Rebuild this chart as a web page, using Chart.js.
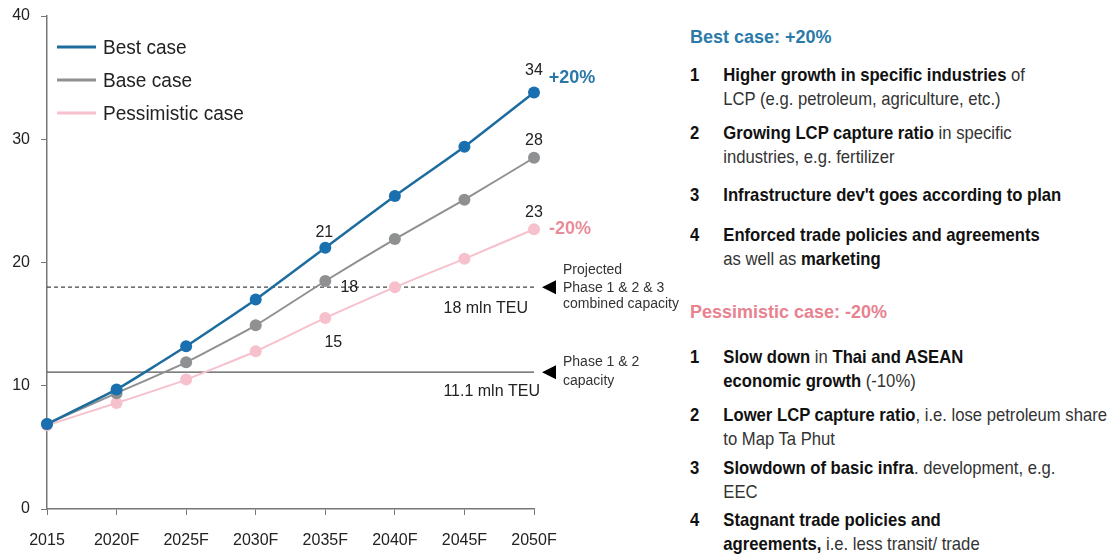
<!DOCTYPE html>
<html><head><meta charset="utf-8">
<script src="https://cdn.jsdelivr.net/npm/chart.js@4.4.0/dist/chart.umd.min.js"></script>
<style>
html,body{margin:0;padding:0;background:#fff;width:1110px;height:559px;overflow:hidden;font-family:"Liberation Sans",Arial,sans-serif;}
#wrap{position:absolute;left:0;top:0;width:680px;height:559px;}
.t{position:absolute;left:690px;font-weight:bold;font-size:18px;line-height:24px;white-space:nowrap;}
.it{position:absolute;left:690px;font-size:18.5px;line-height:24px;white-space:nowrap;color:#333;transform:scaleX(0.9);transform-origin:0 0;}
.it .n{position:absolute;left:0;top:0;font-weight:bold;color:#111;}
.it .x{position:absolute;left:37px;top:0;}
.it b{color:#111;}
</style></head>
<body>
<div id="wrap"><canvas id="c" width="680" height="559"></canvas></div>

<div class="t" style="top:25px;color:#2b7aa8;">Best case: +20%</div>
<div class="it" style="top:63px;"><span class="n">1</span><span class="x"><b>Higher growth in specific industries</b> of<br>LCP (e.g. petroleum, agriculture, etc.)</span></div>
<div class="it" style="top:121px;"><span class="n">2</span><span class="x"><b>Growing LCP capture ratio</b> in specific<br>industries, e.g. fertilizer</span></div>
<div class="it" style="top:183px;"><span class="n">3</span><span class="x"><b>Infrastructure dev't goes according to plan</b></span></div>
<div class="it" style="top:223px;"><span class="n">4</span><span class="x"><b>Enforced trade policies and agreements</b><br>as well as <b>marketing</b></span></div>

<div class="t" style="top:300px;color:#e8828f;">Pessimistic case: -20%</div>
<div class="it" style="top:345px;"><span class="n">1</span><span class="x"><b>Slow down</b> in <b>Thai and ASEAN</b><br><b>economic growth</b> (-10%)</span></div>
<div class="it" style="top:403px;"><span class="n">2</span><span class="x"><b>Lower LCP capture ratio</b>, i.e. lose petroleum share<br>to Map Ta Phut</span></div>
<div class="it" style="top:456px;"><span class="n">3</span><span class="x"><b>Slowdown of basic infra</b>. development, e.g.<br>EEC</span></div>
<div class="it" style="top:508px;"><span class="n">4</span><span class="x"><b>Stagnant trade policies and</b><br><b>agreements,</b> i.e. less transit/ trade</span></div>

<script>
// ---- data ----
const categories = ['2015', '2020F', '2025F', '2030F', '2035F', '2040F', '2045F', '2050F'];
const bestCase = [6.9, 9.7, 13.2, 17.0, 21.2, 25.4, 29.4, 33.8];
const baseCase = [6.9, 9.4, 11.9, 14.9, 18.5, 21.9, 25.1, 28.5];
const pessimisticCase = [6.8, 8.6, 10.5, 12.8, 15.5, 18.0, 20.3, 22.7];
const capacityPhase123 = 18;
const capacityPhase12 = 11.1;
const yMin = 0, yMax = 40, yStep = 10;

const FONT = '"Liberation Sans", Arial, sans-serif';
const BLUE = '#1c6c9e', BLUE_PT = '#1a6fae', GREY = '#8f9092', PINK = '#f6c1cc';

const overlay = {
  id: 'overlay',
  afterDatasetsDraw(chart) {
    const ctx = chart.ctx, xs = chart.scales.x, ys = chart.scales.y, ca = chart.chartArea;
    const px = i => xs.getPixelForValue(i);
    const py = v => ys.getPixelForValue(v);
    ctx.save();
    ctx.textBaseline = 'middle';
    function txt(s, x, y, font, color, align) {
      ctx.font = font; ctx.fillStyle = color; ctx.textAlign = align || 'center'; ctx.fillText(s, x, y);
    }
    const n = '16px ' + FONT;
    const last = categories.length - 1, i35 = categories.indexOf('2035F');
    txt('34', px(last), py(bestCase[last]) - 22, n, '#222');
    txt('+20%', px(last) + 38, py(bestCase[last]) - 14, 'bold 18px ' + FONT, '#2a78a8');
    txt('28', px(last), py(baseCase[last]) - 17, n, '#222');
    txt('23', px(last), py(pessimisticCase[last]) - 17, n, '#222');
    txt('-20%', px(last) + 36, py(pessimisticCase[last]), 'bold 18px ' + FONT, '#ea8b99');
    txt('21', px(i35) - 1, py(bestCase[i35]) - 15, n, '#222');
    txt('18', px(i35) + 24, py(capacityPhase123), n, '#222');
    txt('15', px(i35) + 8, py(pessimisticCase[i35]) + 25, n, '#222');
    txt('18 mln TEU', ca.right - 6, py(capacityPhase123) + 21, n, '#222', 'right');
    txt('11.1 mln TEU', ca.right + 6, py(capacityPhase12) + 19, n, '#222', 'right');
    // triangles
    [capacityPhase123, capacityPhase12].forEach(v => {
      const y = py(v);
      ctx.beginPath();
      ctx.moveTo(ca.right + 8, y);
      ctx.lineTo(ca.right + 22, y - 7);
      ctx.lineTo(ca.right + 22, y + 7);
      ctx.closePath(); ctx.fillStyle = '#000'; ctx.fill();
    });
    const s = '14px ' + FONT;
    const lx = ca.right + 29;
    txt('Projected', lx, py(capacityPhase123) - 17, s, '#333', 'left');
    txt('Phase 1 & 2 & 3', lx, py(capacityPhase123) + 1, s, '#333', 'left');
    txt('combined capacity', lx, py(capacityPhase123) + 17, s, '#333', 'left');
    txt('Phase 1 & 2', lx, py(capacityPhase12) - 10, s, '#333', 'left');
    txt('capacity', lx, py(capacityPhase12) + 9, s, '#333', 'left');
    // legend
    const items = chart.data.datasets.filter(d => d.inLegend);
    items.forEach((d, k) => {
      const y = ca.top + 31 + k * 33;
      ctx.beginPath(); ctx.strokeStyle = d.borderColor; ctx.lineWidth = 3;
      ctx.moveTo(ca.left + 10, y); ctx.lineTo(ca.left + 49, y); ctx.stroke();
      ctx.save();
      ctx.translate(ca.left + 56, y + 1);
      ctx.scale(0.93, 1);
      txt(d.label, 0, 0, '20.5px ' + FONT, '#222', 'left');
      ctx.restore();
    });
    ctx.restore();
  }
};

new Chart(document.getElementById('c'), {
  type: 'line',
  data: {
    labels: categories,
    datasets: [
      { label: 'Best case', data: bestCase, inLegend: true, borderColor: BLUE, backgroundColor: BLUE_PT,
        pointBackgroundColor: BLUE_PT, pointBorderWidth: 0, pointRadius: 6, borderWidth: 2.5, tension: 0.15 },
      { label: 'Base case', data: baseCase, inLegend: true, borderColor: GREY, backgroundColor: GREY,
        pointBackgroundColor: GREY, pointBorderWidth: 0, pointRadius: 6, borderWidth: 2, tension: 0.15 },
      { label: 'Pessimistic case', data: pessimisticCase, inLegend: true, borderColor: PINK, backgroundColor: PINK,
        pointBackgroundColor: PINK, pointBorderWidth: 0, pointRadius: 6, borderWidth: 2, tension: 0.15 },
      { label: 'Phase 1 & 2 & 3', data: categories.map(() => capacityPhase123), borderColor: '#444',
        borderWidth: 1.2, borderDash: [4, 3], pointRadius: 0, tension: 0 },
      { label: 'Phase 1 & 2', data: categories.map(() => capacityPhase12), borderColor: '#555',
        borderWidth: 1.2, pointRadius: 0, tension: 0 }
    ]
  },
  options: {
    responsive: false, animation: false,
    layout: { padding: { top: 16, right: 146, left: 0, bottom: 0 } },
    plugins: { legend: { display: false }, tooltip: { enabled: false } },
    scales: {
      x: {
        offset: false,
        grid: { drawOnChartArea: false, drawTicks: true, tickLength: 6, color: '#777' },
        border: { display: true, color: '#777', width: 1.5 },
        ticks: { color: '#222', font: { family: FONT, size: 16 }, padding: 16, maxRotation: 0, autoSkip: false },
        afterFit(s) { s.height = 50; }
      },
      y: {
        min: yMin, max: yMax,
        grid: { drawOnChartArea: false, drawTicks: true, tickLength: 6, color: '#777' },
        border: { display: true, color: '#777', width: 1.5 },
        ticks: { stepSize: yStep, color: '#222', font: { family: FONT, size: 16, lineHeight: 0.9 }, padding: 11 },
        afterFit(s) { s.width = 47; s.paddingTop = 0; }
      }
    }
  },
  plugins: [overlay]
});
</script>
</body></html>
